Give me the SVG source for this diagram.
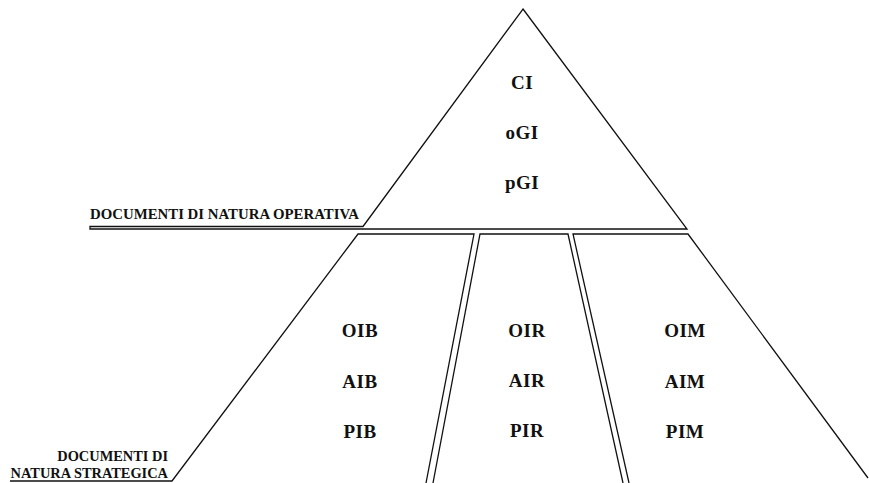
<svg xmlns="http://www.w3.org/2000/svg" width="869" height="483" viewBox="0 0 869 483">
  <style>
    .edge { fill: none; stroke: #111; stroke-width: 1.3; stroke-linejoin: miter; }
    .lbl { font-family: "Liberation Serif", "Times New Roman", serif; font-weight: bold; fill: #111; }
    .code { font-size: 19px; text-anchor: middle; letter-spacing: 0.5px; }
    .cap { font-size: 14.4px; }
  </style>
  <rect width="869" height="483" fill="#fff"/>

  <!-- Upper tier: operative documents -->
  <g id="operativa">
    <path class="edge" d="M523,9 L687,229 L90,229 L90,226.5 L363,226.5 Z"/>
    <text class="lbl cap" x="90" y="219" textLength="269" lengthAdjust="spacingAndGlyphs">DOCUMENTI DI NATURA OPERATIVA</text>
    <text class="lbl code" x="522" y="89">CI</text>
    <text class="lbl code" x="522" y="139">oGI</text>
    <text class="lbl code" x="522" y="189">pGI</text>
  </g>

  <!-- Lower tier, left section -->
  <g id="sezione-b">
    <path class="edge" d="M426,483 L474,234 L358,234 L172,481 L10,481"/>
    <text class="lbl cap" x="168" y="461" text-anchor="end">DOCUMENTI DI</text>
    <text class="lbl cap" x="168" y="478" text-anchor="end">NATURA STRATEGICA</text>
    <text class="lbl code" x="360" y="337">OIB</text>
    <text class="lbl code" x="360" y="388">AIB</text>
    <text class="lbl code" x="360" y="438">PIB</text>
  </g>

  <!-- Lower tier, middle section -->
  <g id="sezione-r">
    <path class="edge" d="M433,483 L480,234 L568,234 L623,483"/>
    <text class="lbl code" x="527" y="337">OIR</text>
    <text class="lbl code" x="527" y="387">AIR</text>
    <text class="lbl code" x="527" y="437">PIR</text>
  </g>

  <!-- Lower tier, right section -->
  <g id="sezione-m">
    <path class="edge" d="M629,483 L573,234 L688,234 L868,478"/>
    <text class="lbl code" x="685" y="337">OIM</text>
    <text class="lbl code" x="685" y="388">AIM</text>
    <text class="lbl code" x="685" y="438">PIM</text>
  </g>

  <g id="connectors"/>
</svg>
